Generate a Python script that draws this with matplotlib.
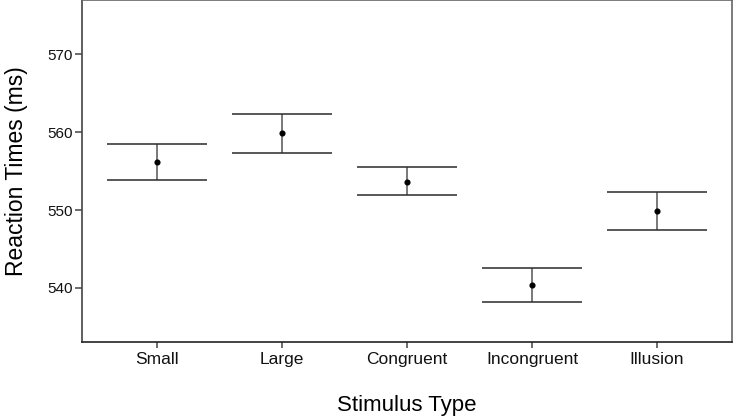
import matplotlib
matplotlib.use("Agg")
import matplotlib.pyplot as plt

# data
categories = ["Small", "Large", "Congruent", "Incongruent", "Illusion"]
means = [556.2, 559.9, 553.6, 540.4, 549.9]
upper = [558.5, 562.4, 555.5, 542.6, 552.3]
lower = [553.9, 557.4, 551.9, 538.2, 547.5]
yticks = [540, 550, 560, 570]

plt.rcParams["font.family"] = ["Liberation Sans", "DejaVu Sans"]

fig = plt.figure(figsize=(7.33, 4.18), dpi=100)
ax = fig.add_axes([82 / 733, 76 / 418, 650 / 733, 342 / 418])

x = list(range(1, len(categories) + 1))
for i in range(len(x)):
    ax.vlines(x[i], lower[i], upper[i], color="#555555", lw=1.1)
    ax.hlines([lower[i], upper[i]], x[i] - 0.4, x[i] + 0.4, color="#2a2a2a", lw=1.1)
ax.plot(x, means, "o", color="black", ms=3.4, zorder=3)

ax.set_xlim(0.4, 5.6)
ax.set_ylim(533.05, 577.0)
ax.set_xticks(x)
ax.set_xticklabels(categories)
ax.set_yticks(yticks)
ax.tick_params(axis="x", labelsize=12.5, colors="#444444", labelcolor="#111111",
               length=4.5, width=1.1, pad=2.5)
ax.tick_params(axis="y", labelsize=11, colors="#444444", labelcolor="#111111",
               length=5, width=1.1, pad=1.5)
for name, s in ax.spines.items():
    s.set_linewidth(1.2)
    s.set_color("#666666")
ax.spines["bottom"].set_color("#222222")
ax.spines["left"].set_color("#444444")

ax.set_xlabel("Stimulus Type", fontsize=16, labelpad=20)
ax.set_ylabel("Reaction Times (ms)", fontsize=16.5, labelpad=14)

fig.savefig("out.png", dpi=100)
